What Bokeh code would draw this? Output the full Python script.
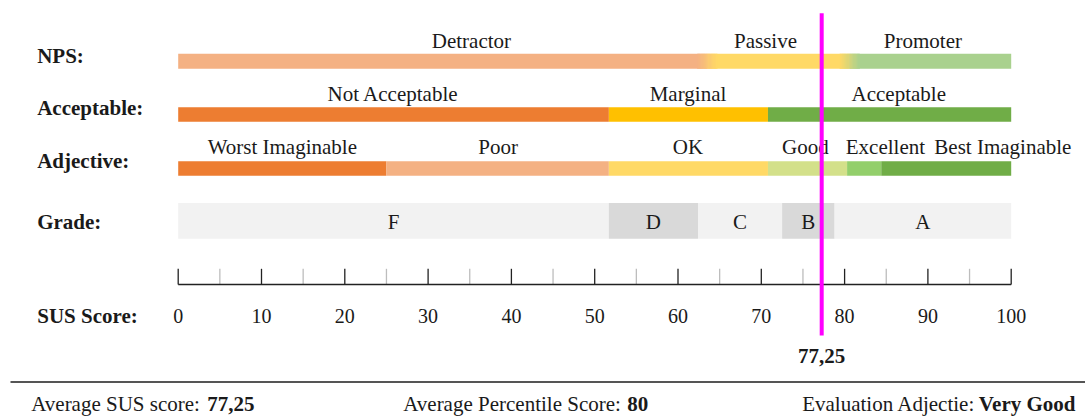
from bokeh.plotting import figure
from bokeh.models import Range1d
from bokeh.core.properties import value
from bokeh.embed import file_html
from bokeh.resources import INLINE

# ---------------- data ----------------
row_titles = ["NPS:", "Acceptable:", "Adjective:", "Grade:"]
axis_title = "SUS Score:"

nps_labels = ["Detractor", "Passive", "Promoter"]
nps_edges = [0, 63.5, 80.6, 100]

acc_labels = ["Not Acceptable", "Marginal", "Acceptable"]
acc_edges = [0, 51.7, 70.8, 100]

adj_labels = ["Worst Imaginable", "Poor", "OK", "Good", "Excellent", "Best Imaginable"]
adj_edges = [0, 25, 51.7, 70.8, 80.3, 84.4, 100]

grade_labels = ["F", "D", "C", "B", "A"]
grade_edges = [0, 51.7, 62.4, 72.5, 78.8, 100]

major_ticks = [0, 10, 20, 30, 40, 50, 60, 70, 80, 90, 100]
minor_ticks = [5, 15, 25, 35, 45, 55, 65, 75, 85, 95]

sus_score = 77.25
sus_score_label = "77,25"
percentile_score = "80"
evaluation_adjective = "Very Good"

# ---------------- styles / layout ----------------
FONT = value("Liberation Serif")
TXT = "#1a1a1a"
nps_colors = ["#f4b183", "#ffd966", "#a9d18e"]
acc_colors = ["#ed7d31", "#ffc000", "#70ad47"]
adj_colors = ["#ed7d31", "#f4b183", "#ffd966", "#d3e08a", "#93cf6b", "#70ad47"]
grade_colors = ["#f2f2f2", "#d9d9d9", "#f2f2f2", "#d9d9d9", "#f2f2f2"]

# label x positions (score units)
nps_label_x = [35.2, 70.5, 89.4]
acc_label_x = [25.8, 61.2, 86.5]
adj_label_x = [12.5, 38.4, 61.2, 75.3, 84.9, 99.0]

X0_PX = 177.7      # pixel of score 0
PX_PER = 8.33      # pixels per score unit


def sx(px):
    return (px - X0_PX) / PX_PER


W, H = 1085, 416
p = figure(width=W, height=H,
           x_range=Range1d(sx(0), sx(W)),
           y_range=Range1d(H, 0),
           x_axis_type=None, y_axis_type=None,
           output_backend="svg", toolbar_location=None,
           min_border=0, outline_line_color=None,
           background_fill_color="white", border_fill_color="white")
p.grid.visible = False


def hex2rgb(h):
    h = h.lstrip("#")
    return tuple(int(h[i:i + 2], 16) for i in (0, 2, 4))


def rgb2hex(c):
    return "#%02x%02x%02x" % tuple(int(round(v)) for v in c)


def band(edges, colors, top, bottom):
    p.quad(left=edges[:-1], right=edges[1:], top=top, bottom=bottom,
           fill_color=colors, line_color=None)


def labels(xs, texts, y, align="center", bold=False, size="21px"):
    p.text(x=xs, y=[y] * len(xs), text=texts, text_font=FONT,
           text_font_size=size, text_align=align, text_baseline="middle",
           text_color=TXT, text_font_style="bold" if bold else "normal")


# NPS row with soft transitions
band(nps_edges, nps_colors, 53.3, 68.3)
half = 1.2
steps = 16
for i, b in enumerate(nps_edges[1:-1]):
    c0 = hex2rgb(nps_colors[i])
    c1 = hex2rgb(nps_colors[i + 1])
    lefts, rights, cols = [], [], []
    w = 2 * half / steps
    for k in range(steps):
        t = (k + 0.5) / steps
        lefts.append(b - half + k * w)
        rights.append(b - half + (k + 1) * w + 0.03)
        cols.append(rgb2hex([c0[j] + (c1[j] - c0[j]) * t for j in range(3)]))
    p.quad(left=lefts, right=rights, top=53.3, bottom=68.3,
           fill_color=cols, line_color=None)
labels(nps_label_x, nps_labels, 40.5)

# Acceptability row
band(acc_edges, acc_colors, 106.7, 121.2)
labels(acc_label_x, acc_labels, 93.7)

# Adjective row
band(adj_edges, adj_colors, 160.7, 175.2)
labels(adj_label_x, adj_labels, 146.8)

# Grade row
band(grade_edges, grade_colors, 202.5, 238.3)
grade_x = [(grade_edges[i] + grade_edges[i + 1]) / 2 for i in range(len(grade_labels))]
labels(grade_x, grade_labels, 221.7)

# Row titles
for t, yc in zip(row_titles, [55.8, 107.0, 160.5, 221.7]):
    labels([sx(36.7)], [t], yc, align="left", bold=True)

# SUS scale
p.segment(x0=minor_ticks, x1=minor_ticks, y0=[268.3] * len(minor_ticks),
          y1=[284] * len(minor_ticks), line_color="#bdbdbd", line_width=1.3)
p.segment(x0=major_ticks, x1=major_ticks, y0=[268.3] * len(major_ticks),
          y1=[284] * len(major_ticks), line_color="#222222", line_width=1.3)
p.segment(x0=[major_ticks[0]], x1=[major_ticks[-1]], y0=[284], y1=[284],
          line_color="#222222", line_width=1.6)
labels(major_ticks, [str(t) for t in major_ticks], 315.0, size="20px")
labels([sx(36.7)], [axis_title], 315.0, align="left", bold=True)

# score marker
labels([sus_score], [sus_score_label], 355.3, bold=True)
p.segment(x0=[sus_score], x1=[sus_score], y0=[12.7], y1=[335],
          line_color="#ff00ff", line_width=4)

# separator + summary
p.segment(x0=[sx(10)], x1=[sx(1085)], y0=[381.5], y1=[381.5],
          line_color="#555555", line_width=2.2)
yc = 403.5
labels([sx(30.7)], ["Average SUS score:"], yc, align="left")
labels([sx(206.7)], [sus_score_label], yc, align="left", bold=True)
labels([sx(402.7)], ["Average Percentile Score:"], yc, align="left")
labels([sx(626.7)], [percentile_score], yc, align="left", bold=True)
labels([sx(801.7)], ["Evaluation Adjectie:"], yc, align="left")
labels([sx(1075)], [evaluation_adjective], yc, align="right", bold=True)

open("out.html", "w").write(file_html(p, INLINE))
